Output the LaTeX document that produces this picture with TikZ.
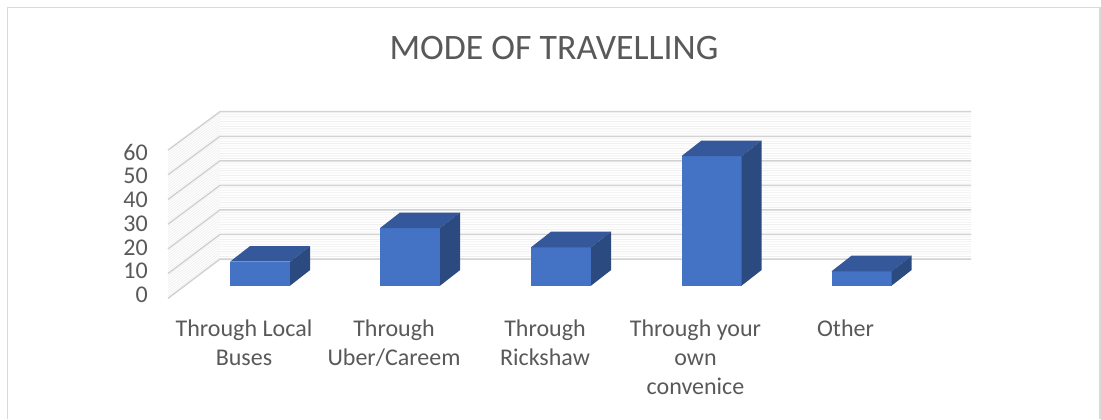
\documentclass[tikz,border=0pt]{standalone}
\usepackage{fontspec}
\setmainfont{Carlito}
\usetikzlibrary{positioning}
\definecolor{barfront}{HTML}{4472C4}
\definecolor{bartop}{HTML}{34589A}
\definecolor{barside}{HTML}{2B4A80}
\definecolor{txtgray}{HTML}{595959}
\tikzstyle{title} = [text=txtgray, font=\fontsize{35.8bp}{43bp}\selectfont]
\tikzstyle{tick} = [text=txtgray, font=\fontsize{24bp}{29bp}\selectfont, anchor=east, inner sep=0pt]
\tikzstyle{cat} = [text=txtgray, font=\fontsize{24bp}{29bp}\selectfont, align=center, anchor=north, inner sep=0pt]
\tikzstyle{major} = [draw=gray!35, line width=1.5bp]
\tikzstyle{minor} = [draw=gray!12, line width=0.8bp]
\tikzstyle{frame} = [draw=gray!30, line width=1.5bp]

\begin{document}
\begin{tikzpicture}[x=1bp, y=-1bp]
\useasboundingbox (0,0) rectangle (1101,419);

%% FRAME

\draw [frame] (7.5,419) -- (7.5,7.5) -- (1100,7.5) -- (1100,419);

%% GRID (back wall and side wall)

\foreach \v in {0,...,60} {
  \draw [minor] (168,298.3-2.47*\v) -- (220,259-2.455*\v) -- (971,259-2.455*\v);
}
\foreach \v in {0,10,...,60} {
  \draw [major] (168,298.3-2.47*\v) -- (220,259-2.455*\v) -- (971,259-2.455*\v);
  \node (tick\v) [tick] at (148,295-2.375*\v) {\v};
}

%% BARS

\foreach \c/\val in {260/10, 410/24, 561/16, 711.5/54, 861.5/6} {
  \fill [barfront] (\c-30,285.7) rectangle (\c+30,285.7-2.4*\val);
  \fill [bartop] (\c-30,285.7-2.4*\val) -- (\c-10,270.1-2.4*\val) -- (\c+50,270.1-2.4*\val) -- (\c+30,285.7-2.4*\val) -- cycle;
  \fill [barside] (\c+30,285.7-2.4*\val) -- (\c+50,270.1-2.4*\val) -- (\c+50,270.1) -- (\c+30,285.7) -- cycle;
}

%% NODES

\node (ttl) [title] at (554,48) {MODE OF TRAVELLING};
\node (c1) [cat] at (244,320) {Through Local\\Buses};
\node (c2) [cat] at (394,320) {Through\\Uber/Careem};
\node (c3) [cat] at (545,320) {Through\\Rickshaw};
\node (c4) [cat] at (695.5,320) {Through your\\own\\convenice};
\node (c5) [cat] at (845.5,320) {Other};

\end{tikzpicture}
\end{document}
